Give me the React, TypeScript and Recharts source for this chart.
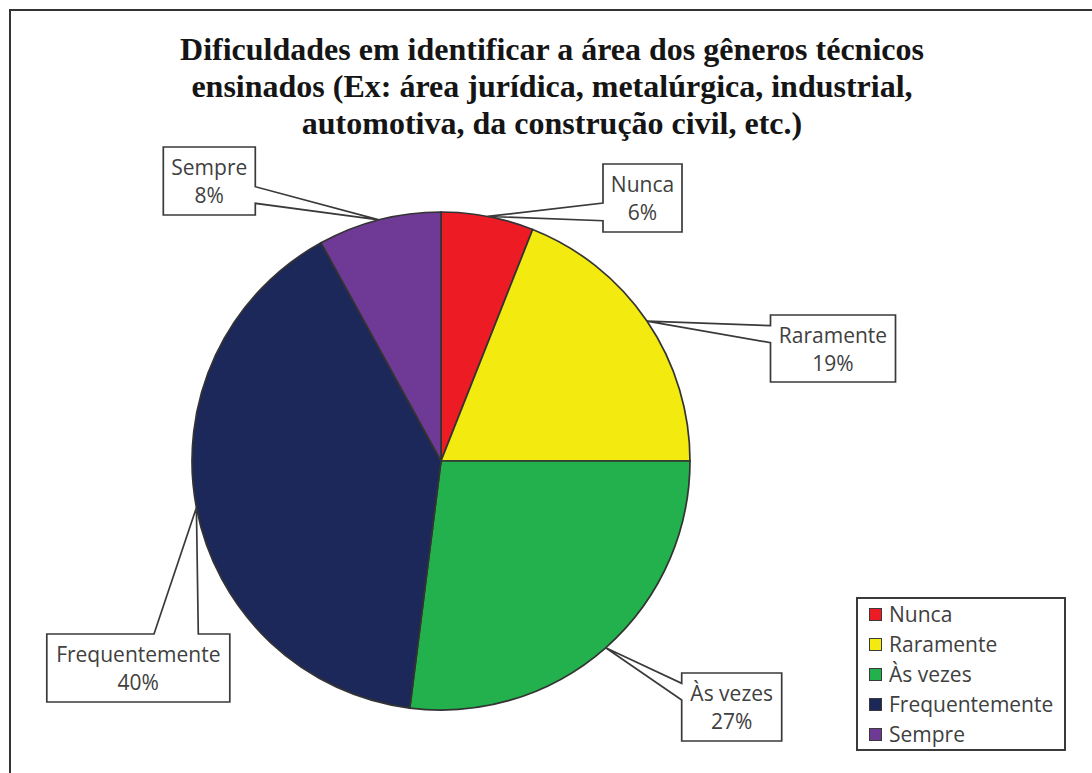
import React from 'react';
import { PieChart, Pie, Cell, Legend } from 'recharts';

const categories = ['Nunca', 'Raramente', 'Às vezes', 'Frequentemente', 'Sempre'];
const values = [6, 19, 27, 40, 8];
const colors = ['#ED1C24', '#F3EA10', '#23B14D', '#1D285A', '#6E3A96'];
const titleLines = [
  'Dificuldades em identificar a área dos gêneros técnicos',
  'ensinados (Ex: área jurídica, metalúrgica, industrial,',
  'automotiva, da construção civil, etc.)',
];

const data = categories.map((name, i) => ({ name, value: values[i] }));

// callout box layout (presentation only): offset of box centre from pie centre,
// box size, side the pointer leaves from, and pointer base offsets on that side
const callouts = [
  { dx: 201.5, dy: -263, w: 79, h: 68, side: 'left', a: 5, b: 22.7 },
  { dx: 392, dy: -112.5, w: 125, h: 67, side: 'left', a: -22.8, b: -5.8 },
  { dx: 290.7, dy: 246, w: 100, h: 68, side: 'left', a: -23.7, b: -7 },
  { dx: -302.7, dy: 207, w: 183, h: 68, side: 'top', a: 15.7, b: 60 },
  { dx: -231.7, dy: -280, w: 92, h: 68, side: 'right', a: 5.7, b: 22.3 },
];

const RAD = Math.PI / 180;
const FONT = '"Open Sans", sans-serif';
const TEXT = '#404040';
const FS = 21;

const renderLabel = (props: any) => {
  const { cx, cy, midAngle, outerRadius, index, name, percent } = props;
  const c = callouts[index];
  const tx = cx + outerRadius * Math.cos(-midAngle * RAD);
  const ty = cy + outerRadius * Math.sin(-midAngle * RAD);
  const bx = cx + c.dx;
  const by = cy + c.dy;
  const L = bx - c.w / 2;
  const R = bx + c.w / 2;
  const T = by - c.h / 2;
  const B = by + c.h / 2;
  let d = '';
  if (c.side === 'left') {
    d = `M${L},${T} L${R},${T} L${R},${B} L${L},${B} L${L},${by + c.b} L${tx},${ty} L${L},${by + c.a} Z`;
  } else if (c.side === 'right') {
    d = `M${L},${T} L${R},${T} L${R},${by + c.a} L${tx},${ty} L${R},${by + c.b} L${R},${B} L${L},${B} Z`;
  } else {
    d = `M${L},${T} L${bx + c.a},${T} L${tx},${ty} L${bx + c.b},${T} L${R},${T} L${R},${B} L${L},${B} Z`;
  }
  return (
    <g key={`lbl-${index}`}>
      <path d={d} fill="#ffffff" stroke="#3a3a3a" strokeWidth={1.7} strokeLinejoin="miter" />
      <text x={bx} y={by - 6} textAnchor="middle" fontFamily={FONT} fontSize={FS} fill={TEXT}>
        {name}
      </text>
      <text x={bx} y={by + 22} textAnchor="middle" fontFamily={FONT} fontSize={FS} fill={TEXT}>
        {`${Math.round(percent * 100)}%`}
      </text>
    </g>
  );
};

const renderLegend = () => (
  <div
    style={{
      width: 206,
      height: 150,
      border: '2px solid #3a3a3a',
      background: '#fff',
      boxSizing: 'content-box',
      display: 'flex',
      flexDirection: 'column',
    }}
  >
    {categories.map((name, i) => (
      <div
        key={name}
        style={{ height: 30, display: 'flex', alignItems: 'center', paddingLeft: 11 }}
      >
        <div
          style={{
            width: 11,
            height: 11,
            background: colors[i],
            border: '1.5px solid #3a3a3a',
            marginRight: 7,
            flexShrink: 0,
          }}
        />
        <span style={{ fontFamily: FONT, fontSize: FS, color: TEXT, lineHeight: '30px', whiteSpace: 'nowrap' }}>
          {name}
        </span>
      </div>
    ))}
  </div>
);

export default function App() {
  return (
    <div
      style={{
        position: 'absolute',
        left: 0,
        top: 0,
        width: 1092,
        height: 773,
        overflow: 'hidden',
        background: '#fff',
      }}
    >
      <svg width={1092} height={773} style={{ position: 'absolute', left: 0, top: 0 }}>
        <rect x={10} y={10} width={1200} height={900} fill="none" stroke="#333" strokeWidth={2} />
        {titleLines.map((t, i) => (
          <text
            key={i}
            x={552}
            y={60 + i * 37}
            textAnchor="middle"
            fontFamily='"Liberation Serif", "Times New Roman", serif'
            fontWeight="bold"
            fontSize={32}
            fill="#151515"
          >
            {t}
          </text>
        ))}
      </svg>
      <div style={{ position: 'absolute', left: 0, top: 0 }}>
        <PieChart width={1092} height={773} margin={{ top: 0, right: 0, bottom: 0, left: 0 }}>
          <Pie
            data={data}
            dataKey="value"
            nameKey="name"
            cx={441}
            cy={461}
            outerRadius={249}
            startAngle={90}
            endAngle={-270}
            stroke="#333"
            strokeWidth={1.7}
            label={renderLabel}
            labelLine={false}
            isAnimationActive={false}
          >
            {data.map((d, i) => (
              <Cell key={d.name} fill={colors[i]} />
            ))}
          </Pie>
          <Legend
            content={renderLegend}
            wrapperStyle={{ position: 'absolute', left: 856, top: 597, width: 'auto', height: 'auto' }}
          />
        </PieChart>
      </div>
    </div>
  );
}
